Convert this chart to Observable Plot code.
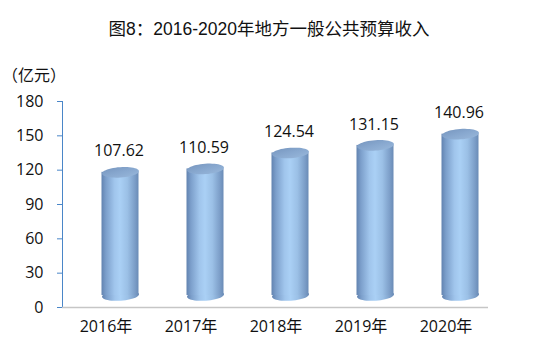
<!DOCTYPE html>
<html><head><meta charset="utf-8">
<script src="https://cdn.jsdelivr.net/npm/d3@7"></script>
<script src="https://cdn.jsdelivr.net/npm/@observablehq/plot@0.6"></script>
<style>
body{margin:0;background:#fff;}
#wrap{position:relative;width:550px;height:360px;background:#fff;}
#title{position:absolute;left:0;width:538px;top:18px;text-align:center;font-size:17.5px;line-height:22px;color:#111;font-family:"Liberation Sans","Noto Sans CJK SC",sans-serif;white-space:nowrap;}
#unit{position:absolute;left:2px;top:64px;font-size:16px;line-height:20px;font-family:"Noto Sans CJK SC",sans-serif;color:#111;}
#chart{position:absolute;left:0;top:0;}
</style></head>
<body>
<div id="wrap">
  <div id="chart"></div>
  <div id="title">图8：2016-2020年地方一般公共预算收入</div>
  <div id="unit">（亿元）</div>
</div>
<script>
const years = ["2016年", "2017年", "2018年", "2019年", "2020年"];
const values = [107.62, 110.59, 124.54, 131.15, 140.96];
const yTicks = [0, 30, 60, 90, 120, 150, 180];

const data = years.map((year, i) => ({year, value: values[i]}));

// 3D offset of the cylinders relative to the category axis
const DX = 14.5, DY = -12;

function ellipseSymbol(rx, ry, deg) {
  const th = deg * Math.PI / 180;
  return {
    draw(context) {
      const n = 48;
      for (let k = 0; k <= n; k++) {
        const t = 2 * Math.PI * k / n;
        const x = rx * Math.cos(t), y = ry * Math.sin(t);
        const X = x * Math.cos(th) - y * Math.sin(th);
        const Y = x * Math.sin(th) + y * Math.cos(th);
        if (k === 0) context.moveTo(X, Y); else context.lineTo(X, Y);
      }
      context.closePath();
    }
  };
}
const ell = ellipseSymbol(18.5, 5.2, -4);

const chart = Plot.plot({
  width: 550,
  height: 360,
  marginTop: 101,
  marginBottom: 53,
  marginLeft: 62,
  marginRight: 62,
  style: {fontFamily: "'Open Sans','Noto Sans CJK SC',sans-serif", fontSize: "16px", color: "#111", background: "white"},
  x: {domain: years, paddingInner: 0.565, paddingOuter: 0.2825, label: null},
  y: {domain: [0, 180], label: null},
  marks: [
    Plot.axisY({ticks: yTicks, tickSize: 5, tickPadding: 14, stroke: "#4a86c8", fill: "#111", label: null}),
    Plot.frame({anchor: "left", stroke: "#4a86c8"}),
    Plot.axisX({tickSize: 0, tickPadding: 13, label: null}),
    Plot.ruleY([0], {stroke: "#c6c6c6", strokeWidth: 1.6}),
    Plot.dot(data, {x: "year", y: () => 0, symbol: ell, r: 10, fill: "url(#cylBody)", stroke: "none", dx: DX, dy: DY}),
    Plot.barY(data, {x: "year", y: "value", fill: "url(#cylBody)", dx: DX, dy: DY}),
    Plot.dot(data, {x: "year", y: "value", symbol: ell, r: 10, fill: "url(#cylTop)", stroke: "none", dx: DX, dy: DY}),
    Plot.text(data, {x: "year", y: "value", text: d => d.value.toFixed(2), dx: DX - 1.5, dy: DY - 21, fontSize: 16, fill: "#111"})
  ]
});

const svg = d3.select(chart);
const defs = svg.insert("defs", ":first-child");
const g1 = defs.append("linearGradient").attr("id", "cylBody").attr("x1", 0).attr("x2", 1).attr("y1", 0).attr("y2", 0);
[[0, "#6283b0"], [0.12, "#7c9fcb"], [0.35, "#a0c5ec"], [0.5, "#aad0f5"], [0.7, "#9bc0e6"], [0.9, "#7c9ec8"], [1, "#6a8bb6"]]
  .forEach(([o, c]) => g1.append("stop").attr("offset", o).attr("stop-color", c));
const g2 = defs.append("linearGradient").attr("id", "cylTop").attr("x1", 0).attr("x2", 1).attr("y1", 0).attr("y2", 1);
[[0, "#7594bd"], [0.5, "#88a8cf"], [1, "#9ab9dc"]]
  .forEach(([o, c]) => g2.append("stop").attr("offset", o).attr("stop-color", c));

document.getElementById("chart").appendChild(chart);
</script>
</body></html>
